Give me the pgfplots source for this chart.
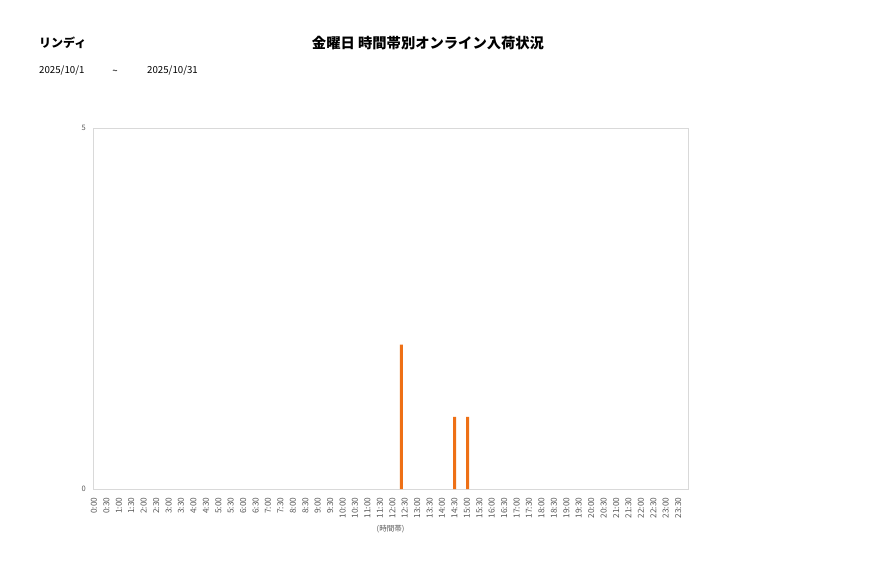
\documentclass[border=0pt]{standalone}
\usepackage{pgfplots}
\pgfplotsset{compat=1.18}
\usepackage{fontspec}
\setmainfont{Noto Sans CJK JP}
\definecolor{barorange}{RGB}{238,112,22}
\definecolor{ticktext}{RGB}{89,89,89}
\definecolor{framegray}{RGB}{217,217,217}
\begin{document}
\begin{tikzpicture}[x=1pt,y=1pt]
\path[use as bounding box,fill=white] (0,0) rectangle (877,578);
\node[anchor=west,inner sep=0pt,font=\fontsize{12}{14}\selectfont\bfseries] at (39,535) {リンディ};
\node[inner sep=0pt,font=\fontsize{14.3}{16}\selectfont\bfseries] at (428,535) {金曜日 時間帯別オンライン入荷状況};
\node[anchor=west,inner sep=0pt,font=\fontsize{9.7}{11}\selectfont] at (39,507) {2025/10/1};
\node[inner sep=0pt,font=\fontsize{9.7}{11}\selectfont] at (115,506) {\textasciitilde};
\node[anchor=west,inner sep=0pt,font=\fontsize{9.7}{11}\selectfont] at (147,507) {2025/10/31};
\begin{axis}[
  at={(93pt,89pt)}, anchor=south west,
  scale only axis, width=595pt, height=361pt,
  xmin=-0.08, xmax=47.79, ymin=0, ymax=5,
  ybar, bar width=3pt,
  axis line style={framegray},
  xtick={0,...,47},
  xticklabels={0:00,0:30,1:00,1:30,2:00,2:30,3:00,3:30,4:00,4:30,5:00,5:30,6:00,6:30,7:00,7:30,8:00,8:30,9:00,9:30,10:00,10:30,11:00,11:30,12:00,12:30,13:00,13:30,14:00,14:30,15:00,15:30,16:00,16:30,17:00,17:30,18:00,18:30,19:00,19:30,20:00,20:30,21:00,21:30,22:00,22:30,23:00,23:30},
  xticklabel style={rotate=90, anchor=east, font=\fontsize{8.3}{9}\selectfont, text=ticktext, inner sep=0pt, xshift=-8.5pt},
  ytick={0,5},
  yticklabel style={font=\fontsize{7.5}{9}\selectfont, text=ticktext, inner sep=0pt, xshift=-7pt},
  /pgf/number format/assume math mode=true,
  major tick length=0pt,
  xlabel={(時間帯)},
  xlabel style={at={(axis description cs:0.5,0)}, anchor=center, yshift=-40.5pt, font=\fontsize{7.5}{9}\selectfont, text=ticktext, inner sep=0pt},
]
\addplot[fill=barorange, draw=none] coordinates {(24.72,2) (29.01,1) (30.05,1)};
\end{axis}
\end{tikzpicture}
\end{document}
